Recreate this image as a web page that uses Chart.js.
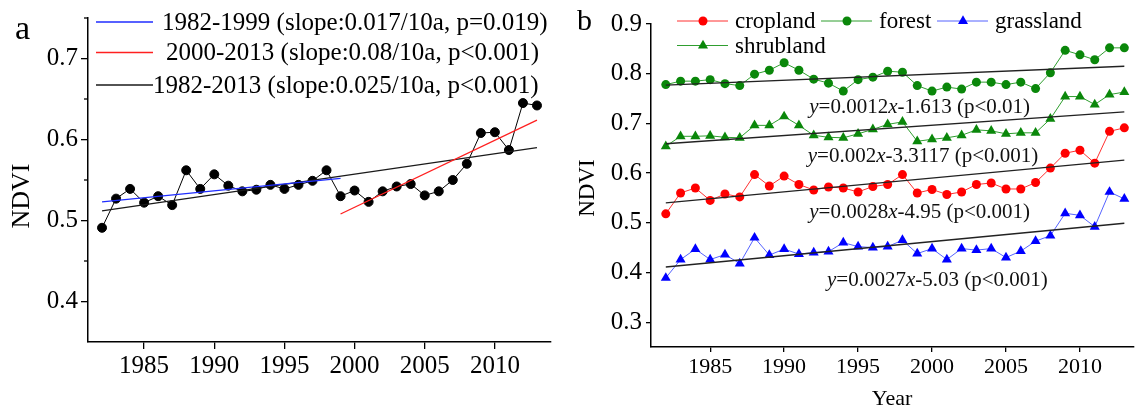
<!DOCTYPE html>
<html>
<head>
<meta charset="utf-8">
<script src="https://cdn.jsdelivr.net/npm/chart.js@4.4.1/dist/chart.umd.min.js"></script>
<style>
body { margin: 0; background: #fff; overflow: hidden }
#wrap { position: relative; width: 1139px; height: 412px }
canvas { position: absolute; top: 0 }
</style>
</head>
<body>
<div id="wrap">
  <canvas id="chartA" width="570" height="412" style="left:0"></canvas>
  <canvas id="chartB" width="569" height="412" style="left:570px"></canvas>
</div>
<script>
// years shared by both panels
const years = [1982,1983,1984,1985,1986,1987,1988,1989,1990,1991,1992,1993,1994,1995,1996,1997,
  1998,1999,2000,2001,2002,2003,2004,2005,2006,2007,2008,2009,2010,2011,2012,2013]
const xTickYears = [1985, 1990, 1995, 2000, 2005, 2010]

// panel a
const ndvi = [0.491,0.527,0.539,0.522,0.530,0.519,0.562,0.539,0.557,0.543,0.536,0.538,0.544,0.539,0.544,0.549,
  0.562,0.530,0.537,0.523,0.536,0.542,0.545,0.531,0.536,0.550,0.570,0.608,0.609,0.587,0.645,0.642]
const trendYears82_99 = [1982, 1999]
const trend82_99 = [0.523, 0.552]
const trendYears00_13 = [1999, 2013]
const trend00_13 = [0.508, 0.624]
const trendYears82_13 = [1982, 2013]
const trend82_13 = [0.512, 0.590]
const legendA = ['1982-1999 (slope:0.017/10a, p=0.019)', '2000-2013 (slope:0.08/10a, p<0.001)', '1982-2013 (slope:0.025/10a, p<0.001)']
const yTicksA = [0.4, 0.5, 0.6, 0.7]
const yMinorA = [0.45, 0.55, 0.65, 0.75]

// panel b
const cropland = [0.518,0.560,0.570,0.545,0.558,0.552,0.597,0.574,0.594,0.577,0.566,0.572,0.570,0.562,0.573,0.577,
  0.597,0.560,0.567,0.557,0.562,0.577,0.580,0.568,0.568,0.581,0.610,0.640,0.646,0.620,0.684,0.691]
const forest = [0.778,0.785,0.785,0.788,0.780,0.776,0.799,0.807,0.822,0.807,0.789,0.781,0.765,0.788,0.793,0.805,
  0.803,0.776,0.765,0.773,0.769,0.783,0.783,0.778,0.783,0.770,0.802,0.847,0.838,0.828,0.852,0.852]
const shrubland = [0.654,0.674,0.674,0.675,0.672,0.671,0.696,0.696,0.714,0.696,0.676,0.672,0.671,0.679,0.688,0.698,
  0.703,0.664,0.668,0.671,0.676,0.687,0.685,0.679,0.681,0.681,0.709,0.754,0.754,0.738,0.758,0.763]
const grassland = [0.389,0.426,0.447,0.426,0.436,0.418,0.470,0.435,0.447,0.437,0.440,0.442,0.460,0.452,0.450,0.452,
  0.465,0.438,0.448,0.426,0.448,0.445,0.448,0.430,0.443,0.463,0.474,0.519,0.515,0.492,0.562,0.548]
const fitYears = [1982, 2013]
const fitForest = [0.777, 0.815]
const fitShrub = [0.659, 0.723]
const fitCrop = [0.540, 0.626]
const fitGrass = [0.411, 0.499]
// italic parts first: y, =..., x, rest
const equations = [
  ['y', '=0.0012', 'x', '-1.613 (p<0.01)'],
  ['y', '=0.002', 'x', '-3.3117 (p<0.001)'],
  ['y', '=0.0028', 'x', '-4.95 (p<0.001)'],
  ['y', '=0.0027', 'x', '-5.03 (p<0.001)']
]
const eqAnchorYear = [1991.7, 1991.6, 1991.7, 1992.9]
const eqAnchorNdvi = [0.733, 0.633, 0.520, 0.384]
const yTicksB = [0.3, 0.4, 0.5, 0.6, 0.7, 0.8, 0.9]

const serif = "'Liberation Serif', 'Times New Roman', serif"

function pts (xs, ys) {
  return xs.map((x, i) => ({ x: x, y: ys[i] }))
}

function trend (xs, ys, color) {
  return {
    data: pts(xs, ys), borderColor: color, borderWidth: 1.3, pointRadius: 0,
    showLine: true, order: 0
  }
}

function axisX (min, max, h, tl, size, pad) {
  return {
    type: 'linear', min: min, max: max,
    afterBuildTicks: s => { s.ticks = xTickYears.map(v => ({ value: v })) },
    afterFit: s => { s.height = h },
    grid: { drawOnChartArea: false, tickLength: tl, color: '#000', lineWidth: 1.3 },
    border: { color: '#000', width: 1.5 },
    ticks: { font: { family: serif, size: size }, color: '#000', padding: pad, maxRotation: 0, autoSkip: false, callback: v => String(v) }
  }
}

function axisY (min, max, w, tl, size, pad, ticks) {
  return {
    min: min, max: max,
    afterBuildTicks: s => { s.ticks = ticks.map(v => ({ value: v })) },
    afterFit: s => { s.width = w },
    grid: { drawOnChartArea: false, tickLength: tl, color: '#000', lineWidth: 1.3 },
    border: { color: '#000', width: 1.5 },
    ticks: { font: { family: serif, size: size }, color: '#000', padding: pad, callback: v => v.toFixed(1) }
  }
}

function rotatedText (ctx, txt, x, y, size) {
  ctx.save()
  ctx.translate(x, y)
  ctx.rotate(-Math.PI / 2)
  ctx.font = size + 'px ' + serif
  ctx.textAlign = 'center'
  ctx.textBaseline = 'middle'
  ctx.fillText(txt, 0, 0)
  ctx.restore()
}

const decorA = {
  id: 'decorA',
  afterDraw (chart) {
    const ctx = chart.ctx
    const y = chart.scales.y
    const left = chart.chartArea.left
    ctx.save()
    ctx.strokeStyle = '#000'
    ctx.lineWidth = 1.3
    yMinorA.forEach(v => {
      const p = y.getPixelForValue(v)
      ctx.beginPath(); ctx.moveTo(left - 4, p); ctx.lineTo(left, p); ctx.stroke()
    })
    ctx.fillStyle = '#000'
    ctx.font = '34px ' + serif
    ctx.textBaseline = 'middle'
    ctx.fillText('a', 15, 30)
    rotatedText(ctx, 'NDVI', 22, 196, 26)

    // legend
    const rows = [22, 52.5, 85]
    const textX = [162, 166, 153]
    const ds = chart.data.datasets
    ctx.font = '25px ' + serif
    legendA.forEach((lab, i) => {
      ctx.strokeStyle = ds[i + 1].borderColor
      ctx.lineWidth = 1.3
      ctx.beginPath(); ctx.moveTo(96, rows[i]); ctx.lineTo(153, rows[i]); ctx.stroke()
      ctx.fillStyle = '#000'
      ctx.fillText(lab, textX[i], rows[i] + 1)
    })
    ctx.restore()
  }
}

function marker (ctx, style, x, y, r, color) {
  ctx.fillStyle = color
  ctx.beginPath()
  if (style === 'circle') {
    ctx.arc(x, y, r, 0, Math.PI * 2)
  } else {
    ctx.moveTo(x, y - r)
    ctx.lineTo(x + r * 0.866, y + r / 2)
    ctx.lineTo(x - r * 0.866, y + r / 2)
    ctx.closePath()
  }
  ctx.fill()
}

const decorB = {
  id: 'decorB',
  afterDraw (chart) {
    const ctx = chart.ctx
    const xs = chart.scales.x
    const ys = chart.scales.y
    const ds = chart.data.datasets
    ctx.save()
    ctx.fillStyle = '#000'
    ctx.font = '30px ' + serif
    ctx.textBaseline = 'middle'
    ctx.fillText('b', 7, 22)
    rotatedText(ctx, 'NDVI', 18, 188, 23)
    ctx.font = '22px ' + serif
    ctx.textAlign = 'center'
    ctx.fillText('Year', (chart.chartArea.left + chart.chartArea.right) / 2, 399)
    ctx.textAlign = 'left'

    // legend, two rows
    const items = [
      { d: ds[0], x: 107, y: 21 },
      { d: ds[1], x: 251, y: 21 },
      { d: ds[2], x: 367, y: 21 },
      { d: ds[3], x: 107, y: 45.5 }
    ]
    ctx.font = '23px ' + serif
    items.forEach(it => {
      ctx.strokeStyle = it.d.borderColor
      ctx.lineWidth = 1
      ctx.beginPath(); ctx.moveTo(it.x, it.y); ctx.lineTo(it.x + 51, it.y); ctx.stroke()
      marker(ctx, it.d.pointStyle, it.x + 26, it.y, it.d.pointRadius, it.d.pointBackgroundColor)
      ctx.fillStyle = '#000'
      ctx.fillText(it.d.label, it.x + 58, it.y + 1)
    })

    // regression equations
    ctx.fillStyle = '#111'
    equations.forEach((parts, i) => {
      let px = xs.getPixelForValue(eqAnchorYear[i])
      const py = ys.getPixelForValue(eqAnchorNdvi[i])
      parts.forEach((t, j) => {
        ctx.font = (j % 2 === 0 ? 'italic ' : '') + '21px ' + serif
        ctx.fillText(t, px, py)
        px += ctx.measureText(t).width
      })
    })
    ctx.restore()
  }
}

new Chart(document.getElementById('chartA'), {
  type: 'scatter',
  data: {
    datasets: [
      {
        data: pts(years, ndvi), showLine: true, borderColor: '#000', borderWidth: 1,
        pointRadius: 4.5, pointBackgroundColor: '#000', pointBorderColor: '#000', order: 1
      },
      trend(trendYears82_99, trend82_99, '#1f2dff'),
      trend(trendYears00_13, trend00_13, '#ff2020'),
      trend(trendYears82_13, trend82_13, '#1a1a1a')
    ]
  },
  options: {
    responsive: false, animation: false, devicePixelRatio: 1,
    layout: { padding: { left: 0, right: 19, top: 15, bottom: 0 } },
    plugins: { legend: { display: false }, tooltip: { enabled: false } },
    scales: {
      x: axisX(1981, 2014, 70, 7, 25, 2),
      y: axisY(0.35, 0.75, 88, 7, 25, 3, yTicksA)
    }
  },
  plugins: [decorA]
})

function series (label, vals, line, fill, style, r) {
  return {
    label: label, data: pts(years, vals), showLine: true, borderColor: line, borderWidth: 1,
    pointStyle: style, pointRadius: r, pointBackgroundColor: fill, pointBorderColor: fill,
    pointBorderWidth: 0, order: 1, clip: false
  }
}

new Chart(document.getElementById('chartB'), {
  type: 'scatter',
  data: {
    datasets: [
      series('cropland', cropland, '#ff3030', '#ff0000', 'circle', 4.5),
      series('forest', forest, '#2f9e2f', '#0a870a', 'circle', 4.5),
      series('grassland', grassland, '#5563ff', '#0000ff', 'triangle', 5.8),
      series('shrubland', shrubland, '#2f9e2f', '#0a870a', 'triangle', 5.8),
      trend(fitYears, fitForest, '#222'),
      trend(fitYears, fitShrub, '#222'),
      trend(fitYears, fitCrop, '#222'),
      trend(fitYears, fitGrass, '#222')
    ]
  },
  options: {
    responsive: false, animation: false, devicePixelRatio: 1,
    layout: { padding: { left: 0, right: 0, top: 24, bottom: 0 } },
    plugins: { legend: { display: false }, tooltip: { enabled: false } },
    scales: {
      x: axisX(1981, 2013.6, 65, 5, 22, 2),
      y: axisY(0.25, 0.9, 81, 5, 25, 4, yTicksB)
    }
  },
  plugins: [decorB]
})
</script>
</body>
</html>
